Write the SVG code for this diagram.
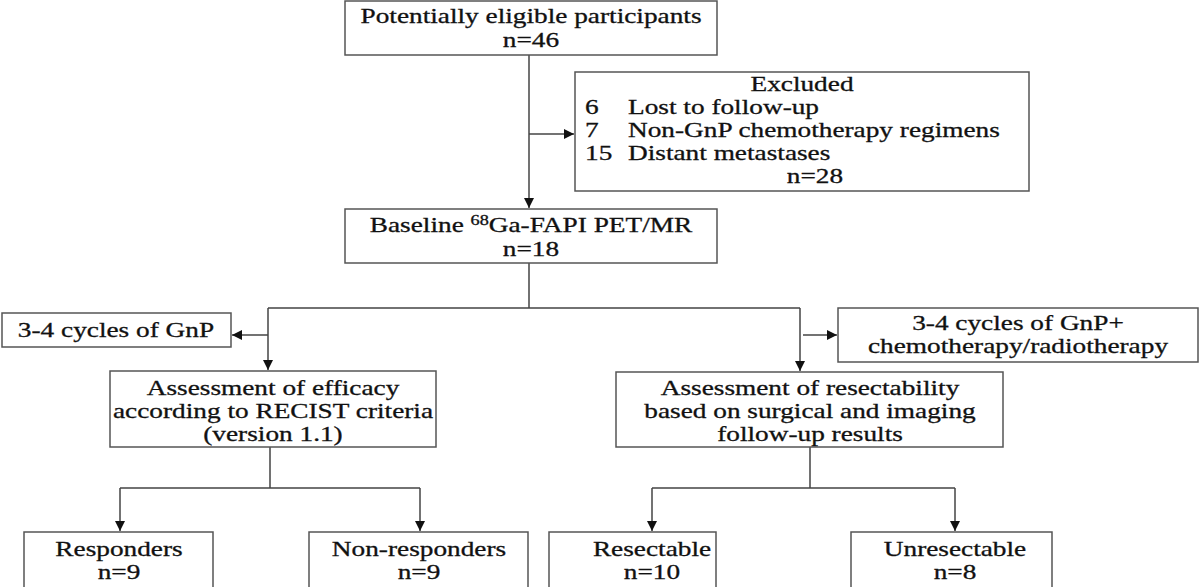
<svg xmlns="http://www.w3.org/2000/svg" width="1200" height="587" viewBox="0 0 1200 587">
<defs>
<marker id="ah" viewBox="0 0 10 10" refX="10" refY="5" markerWidth="10" markerHeight="10" markerUnits="userSpaceOnUse" orient="auto"><path d="M0,0L10,5L0,10z" fill="#111"/></marker>
<style>
rect{fill:#fff;stroke:#555;stroke-width:1.5}
text{font-family:"Liberation Serif",serif;font-size:21px;fill:#111;stroke:#111;stroke-width:0.3}
.c{text-anchor:middle}
#conn path{fill:none;stroke:#444;stroke-width:1.5}
.a{marker-end:url(#ah)}
</style>
</defs>
<rect x="0" y="0" width="1200" height="587" style="fill:#fff;stroke:none"/>
<g id="conn">
<path class="a" d="M529,55V208"/>
<path class="a" d="M529,134H574"/>
<path d="M529,263V308H268M529,308H800"/>
<path class="a" d="M268,308V370"/>
<path class="a" d="M268,335H232"/>
<path class="a" d="M800,308V371"/>
<path class="a" d="M803,335H837"/>
<path d="M270,447V488H120M270,488H420"/>
<path class="a" d="M120,488V531"/>
<path class="a" d="M420,488V531"/>
<path d="M810,447V488H652M810,488H955"/>
<path class="a" d="M652,488V531"/>
<path class="a" d="M955,488V531"/>
</g>
<g id="n1"><rect x="345" y="1" width="372" height="54"/><text class="c" transform="translate(531,23) scale(1.3,1)">Potentially eligible participants</text><text class="c" transform="translate(531,47) scale(1.3,1)">n=46</text></g>
<g id="n2"><rect x="575" y="72" width="454" height="119"/><text class="c" transform="translate(802,91) scale(1.3,1)">Excluded</text>
<text transform="translate(585,114) scale(1.3,1)">6</text><text transform="translate(628,114) scale(1.3,1)">Lost to follow-up</text>
<text transform="translate(585,137) scale(1.3,1)">7</text><text transform="translate(628,137) scale(1.3,1)">Non-GnP chemotherapy regimens</text>
<text transform="translate(585,160) scale(1.3,1)">15</text><text transform="translate(628,160) scale(1.3,1)">Distant metastases</text>
<text class="c" transform="translate(815,183) scale(1.3,1)">n=28</text></g>
<g id="n3"><rect x="345" y="209" width="372" height="54"/><text class="c" transform="translate(531,232) scale(1.3,1)">Baseline <tspan font-size="14" dy="-7">68</tspan><tspan dy="7">Ga-FAPI PET/MR</tspan></text><text class="c" transform="translate(531,256) scale(1.3,1)">n=18</text></g>
<g id="n4"><rect x="2" y="313" width="229" height="34"/><text class="c" transform="translate(116,337) scale(1.3,1)">3-4 cycles of GnP</text></g>
<g id="n5"><rect x="838" y="308" width="360" height="54"/><text class="c" transform="translate(1018,330) scale(1.3,1)">3-4 cycles of GnP+</text><text class="c" transform="translate(1018,353) scale(1.3,1)">chemotherapy/radiotherapy</text></g>
<g id="n6"><rect x="110" y="371" width="326" height="76"/><text class="c" transform="translate(273,395) scale(1.3,1)">Assessment of efficacy</text><text class="c" transform="translate(273,418) scale(1.3,1)">according to RECIST criteria</text><text class="c" transform="translate(273,441) scale(1.3,1)">(version 1.1)</text></g>
<g id="n7"><rect x="616" y="372" width="387" height="75"/><text class="c" transform="translate(810,395) scale(1.3,1)">Assessment of resectability</text><text class="c" transform="translate(810,418) scale(1.3,1)">based on surgical and imaging</text><text class="c" transform="translate(810,441) scale(1.3,1)">follow-up results</text></g>
<g id="n8"><rect x="24" y="532" width="189" height="56"/><text class="c" transform="translate(119,556) scale(1.3,1)">Responders</text><text class="c" transform="translate(119,579) scale(1.3,1)">n=9</text></g>
<g id="n9"><rect x="309" y="532" width="219" height="56"/><text class="c" transform="translate(419,556) scale(1.3,1)">Non-responders</text><text class="c" transform="translate(419,579) scale(1.3,1)">n=9</text></g>
<g id="n10"><rect x="549" y="532" width="167" height="56"/><text class="c" transform="translate(652,556) scale(1.3,1)">Resectable</text><text class="c" transform="translate(652,579) scale(1.3,1)">n=10</text></g>
<g id="n11"><rect x="851" y="532" width="201" height="56"/><text class="c" transform="translate(955,556) scale(1.3,1)">Unresectable</text><text class="c" transform="translate(955,579) scale(1.3,1)">n=8</text></g>
</svg>
